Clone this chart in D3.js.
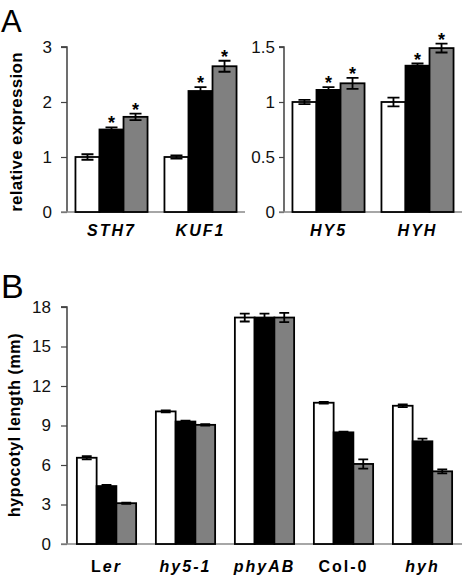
<!DOCTYPE html>
<html><head><meta charset="utf-8">
<script src="https://cdn.jsdelivr.net/npm/d3@7"></script>
<style>body{margin:0;background:#fff}svg{display:block}text{font-family:"Liberation Sans",Arial,sans-serif}</style>
</head><body>
<script>
// Panel A data
const genesA1 = ["STH7", "KUF1"];
const genesA2 = ["HY5", "HYH"];
const treatments = ["t0", "t1", "t2"];
const colors = ["#ffffff", "#000000", "#808080"];
const valsA1 = [[1.0, 1.5, 1.73], [1.0, 2.2, 2.65]];
const errsA1 = [[0.05, 0.04, 0.06], [0.03, 0.07, 0.1]];
const starA1 = [[false, true, true], [false, true, true]];
const valsA2 = [[1.0, 1.11, 1.17], [1.0, 1.33, 1.49]];
const errsA2 = [[0.02, 0.025, 0.05], [0.04, 0.02, 0.04]];
const starA2 = [[false, true, true], [false, true, true]];
const ticksA1 = [0, 1, 2, 3];
const ticksA2 = [0, 0.5, 1, 1.5];
// Panel B data
const linesB = ["Ler", "hy5-1", "phyAB", "Col-0", "hyh"];
const valsB = [[6.55, 4.4, 3.1], [10.07, 9.3, 9.05], [17.2, 17.2, 17.2], [10.73, 8.48, 6.08], [10.5, 7.8, 5.52]];
const errsB = [[0.12, 0.08, 0.05], [0.08, 0.06, 0.05], [0.3, 0.3, 0.35], [0.06, 0.05, 0.35], [0.1, 0.2, 0.15]];
const ticksB = [0, 3, 6, 9, 12, 15, 18];

const W = 462, H = 576;
const svg = d3.select("body").append("svg").attr("width", W).attr("height", H);

function panel(opts) {
  const {cats, vals, errs, stars, ticks, ymax, x0, x1, y0, y1, pad, tickFmt, barStroke, tickLen, tickPad} = opts;
  const x = d3.scaleBand().domain(cats).range([x0, x1]).paddingInner(pad).paddingOuter(pad / 2);
  const xi = d3.scaleBand().domain(treatments).range([0, x.bandwidth()]);
  const y = d3.scaleLinear().domain([0, ymax]).range([y0, y1]);
  const g = svg.append("g");
  const ax = g.append("g").attr("transform", `translate(${x0},0)`)
    .call(d3.axisLeft(y).tickValues(ticks).tickFormat(tickFmt).tickSize(tickLen).tickPadding(tickPad));
  ax.select(".domain").attr("stroke", "#222").attr("stroke-width", 1.3).attr("d", `M-${tickLen},${y1}H0V${y0}`);
  ax.selectAll(".tick line").attr("stroke", "#444").attr("stroke-width", 1.2);
  ax.selectAll(".tick text").attr("font-size", 17).attr("fill", "#111").style("font-family", "Liberation Sans, Arial, sans-serif");
  g.append("line").attr("x1", x0 - tickLen).attr("x2", x1).attr("y1", y0).attr("y2", y0)
    .attr("stroke", "#888").attr("stroke-width", 1.5);
  cats.forEach((c, i) => {
    const gg = g.append("g").attr("transform", `translate(${x(c)},0)`);
    treatments.forEach((t, j) => {
      const v = vals[i][j], e = errs[i][j];
      gg.append("rect").attr("x", xi(t)).attr("y", y(v)).attr("width", xi.bandwidth())
        .attr("height", y(0) - y(v)).attr("fill", colors[j]).attr("stroke", "#000").attr("stroke-width", barStroke);
      const cx = xi(t) + xi.bandwidth() / 2;
      const cw = Math.min(6, xi.bandwidth() / 4);
      const p = d3.path();
      p.moveTo(cx, y(v + e)); p.lineTo(cx, y(v - e));
      p.moveTo(cx - cw, y(v + e)); p.lineTo(cx + cw, y(v + e));
      p.moveTo(cx - cw, y(v - e)); p.lineTo(cx + cw, y(v - e));
      gg.append("path").attr("d", p.toString()).attr("stroke", "#000").attr("stroke-width", 1.8).attr("fill", "none");
      if (stars && stars[i][j]) {
        gg.append("text").attr("x", cx).attr("y", y(v + e) + 2).attr("text-anchor", "middle")
          .attr("font-size", 18).attr("font-weight", "bold").text("*");
      }
    });
  });
  return x;
}

const xA1 = panel({cats: genesA1, vals: valsA1, errs: errsA1, stars: starA1, ticks: ticksA1, ymax: 3,
  x0: 67, x1: 245, y0: 212, y1: 47, pad: 0.19, tickFmt: d3.format("~g"), barStroke: 1.8, tickLen: 6, tickPad: 9});
const xA2 = panel({cats: genesA2, vals: valsA2, errs: errsA2, stars: starA2, ticks: ticksA2, ymax: 1.5,
  x0: 284, x1: 462, y0: 212, y1: 47, pad: 0.19, tickFmt: d3.format("~g"), barStroke: 1.8, tickLen: 5, tickPad: 4});
const xB = panel({cats: linesB, vals: valsB, errs: errsB, stars: null, ticks: ticksB, ymax: 18,
  x0: 67, x1: 462, y0: 544, y1: 307, pad: 0.25, tickFmt: d3.format("d"), barStroke: 1.8, tickLen: 6, tickPad: 10});

function xlabel(xs, c, y, parts) {
  const t = svg.append("text").attr("x", xs(c) + xs.bandwidth() / 2).attr("y", y)
    .attr("text-anchor", "middle").attr("font-size", 16).attr("font-weight", "bold")
    .attr("letter-spacing", 2);
  parts.forEach(([s, it]) => t.append("tspan").attr("font-style", it ? "italic" : "normal").text(s));
}
genesA1.forEach(c => xlabel(xA1, c, 236, [[c, true]]));
genesA2.forEach(c => xlabel(xA2, c, 236, [[c, true]]));
const labelParts = {"Ler": [["L", false], ["er", true]], "hy5-1": [["hy5-1", true]], "phyAB": [["phyAB", true]], "Col-0": [["Col-0", false]], "hyh": [["hyh", true]]};
linesB.forEach(c => xlabel(xB, c, 572, labelParts[c]));

svg.append("text").attr("transform", "translate(22,132) rotate(-90)").attr("text-anchor", "middle")
  .attr("font-size", 17).attr("font-weight", "bold").attr("letter-spacing", 0.3).text("relative expression");
svg.append("text").attr("transform", "translate(20,425) rotate(-90)").attr("text-anchor", "middle")
  .attr("font-size", 16).attr("font-weight", "bold").attr("letter-spacing", 0.6).text("hypocotyl length (mm)");

svg.append("text").attr("x", 1).attr("y", 32).attr("font-size", 31).text("A");
svg.append("text").attr("x", 1).attr("y", 298).attr("font-size", 34).text("B");
</script>
</body></html>
